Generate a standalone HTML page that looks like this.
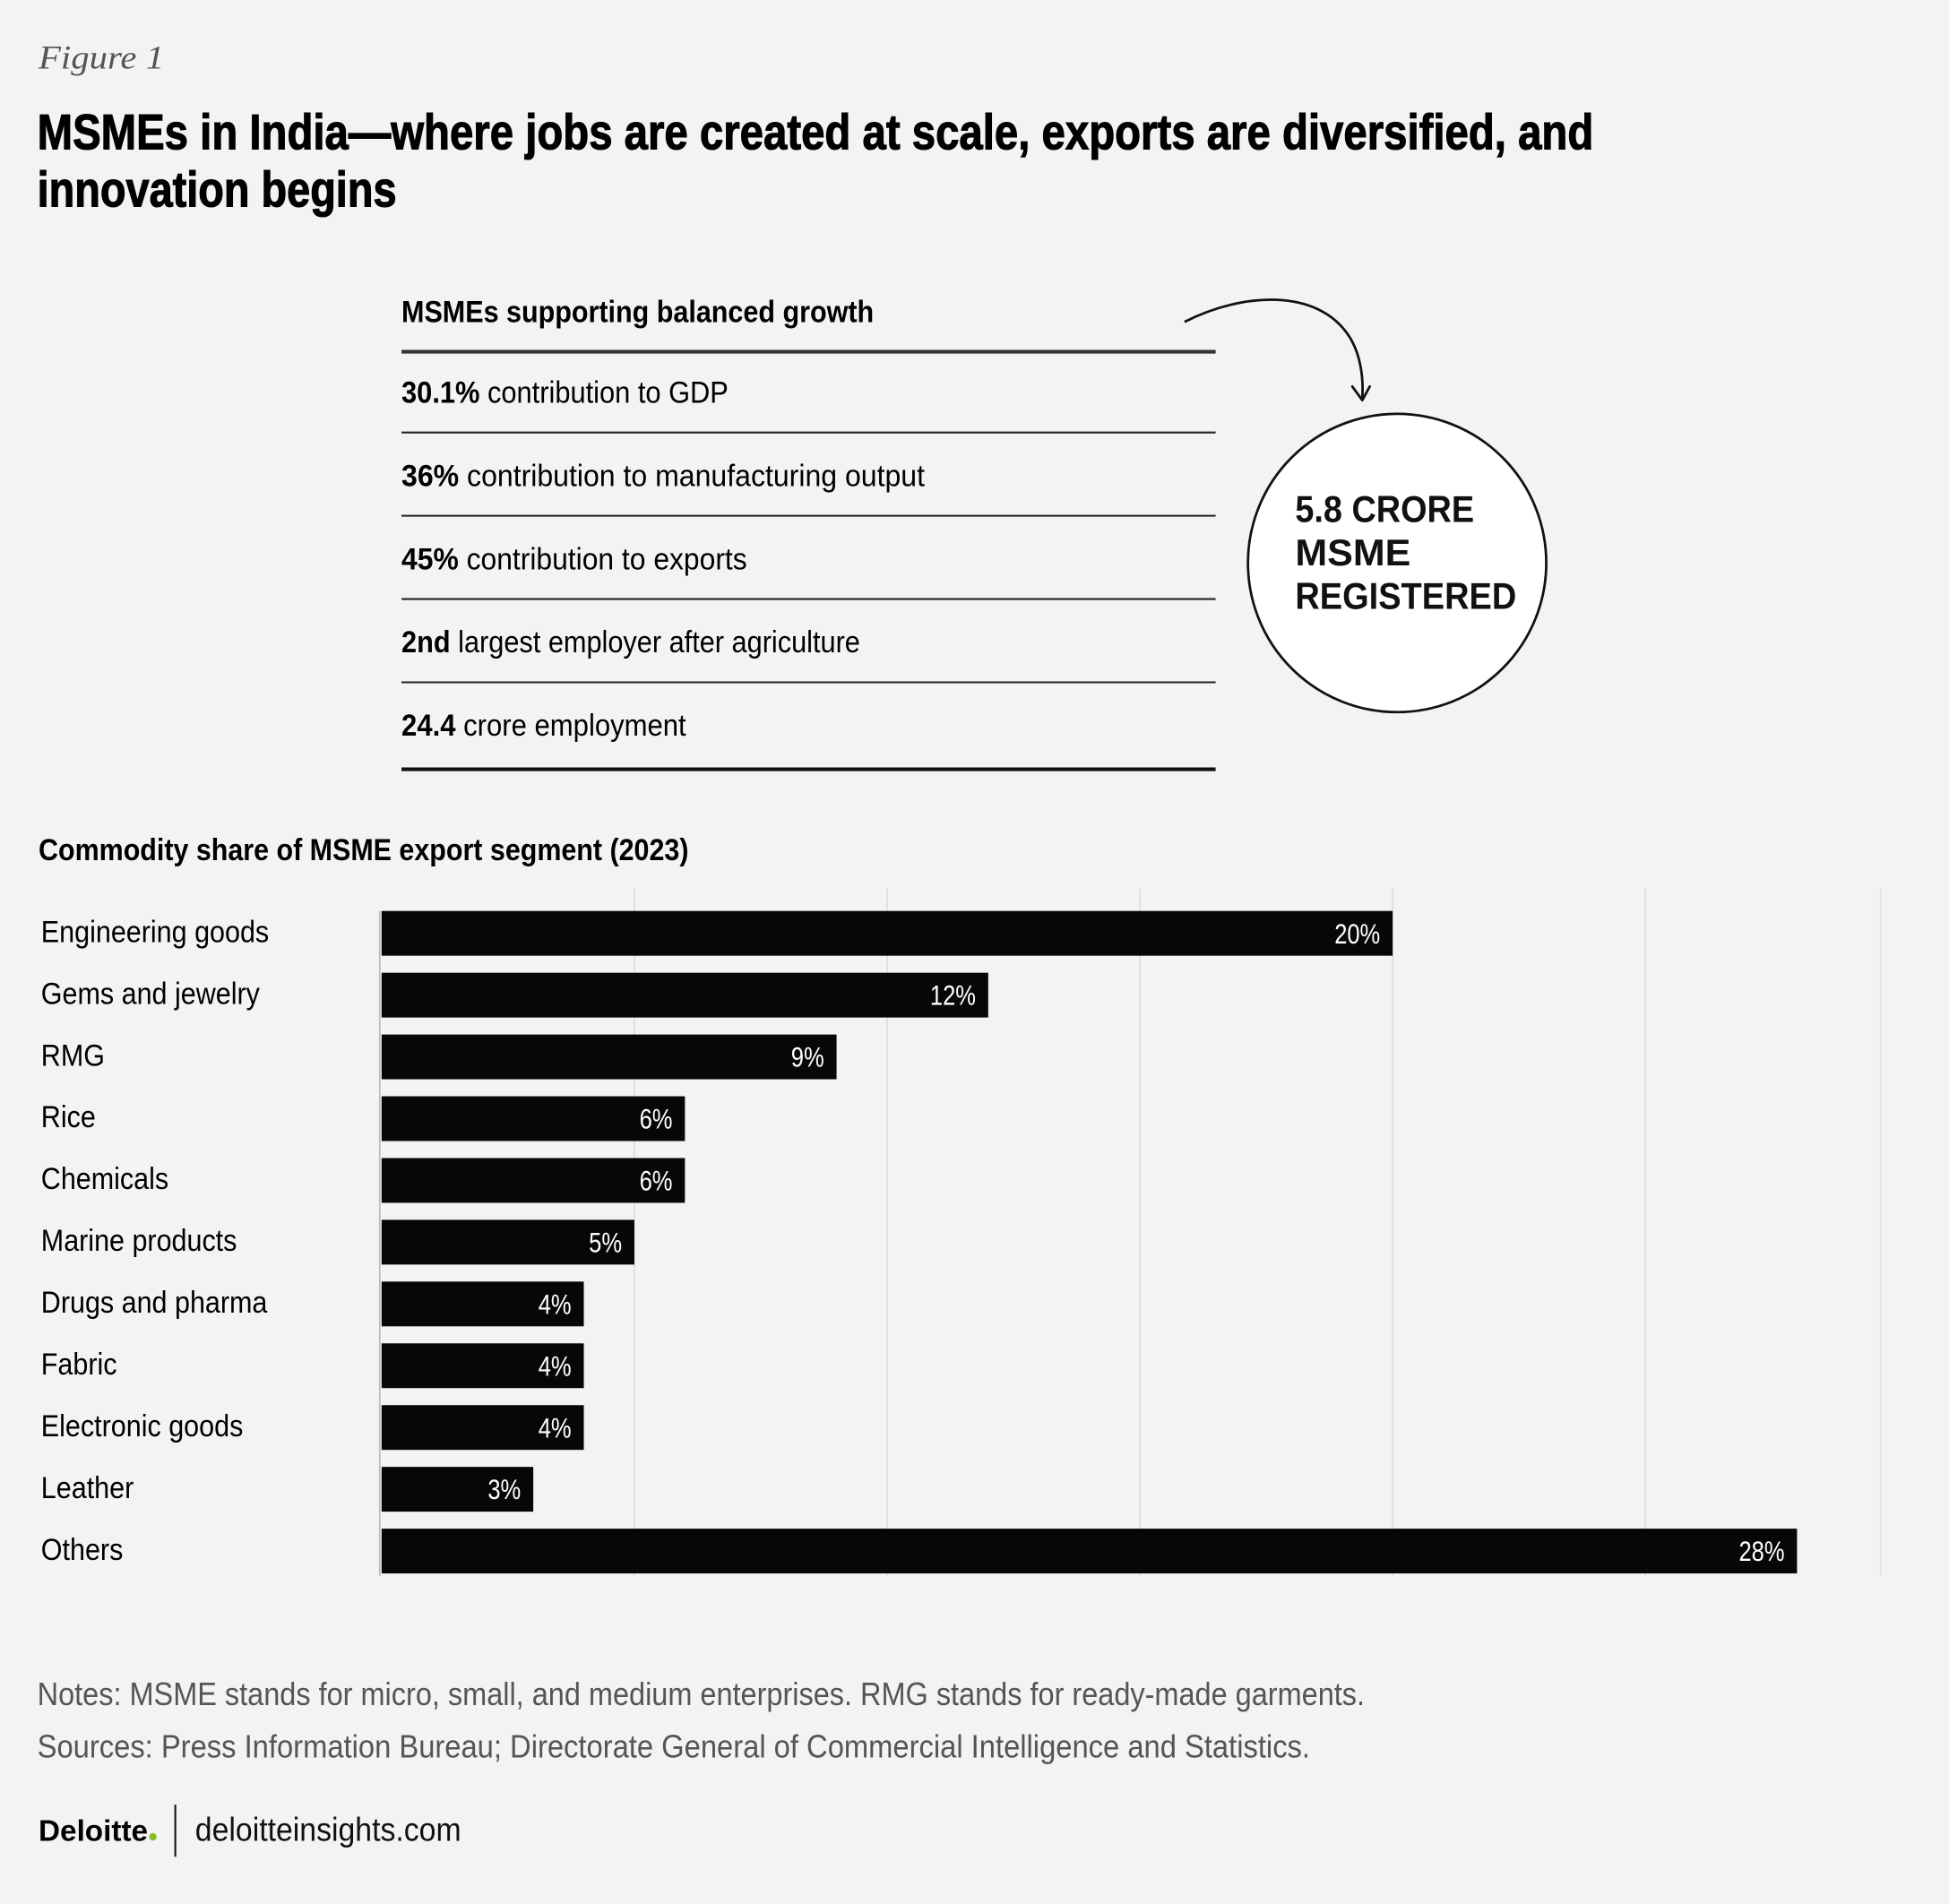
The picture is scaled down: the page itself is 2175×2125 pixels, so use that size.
<!DOCTYPE html>
<html><head><meta charset="utf-8"><style>
html,body{margin:0;padding:0;background:#f3f3f3;}
svg{display:block;}
text{font-family:"Liberation Sans Narrow","Liberation Sans",sans-serif;}
</style></head><body>
<svg id="fig" width="2175" height="2125" viewBox="0 0 1568 1532" xmlns="http://www.w3.org/2000/svg">
<rect x="0" y="0" width="1568" height="1532" fill="#f3f3f3"/>
<text x="31" y="55" font-size="27" font-style="italic" fill="#555" style="font-family:'Liberation Serif',serif" textLength="101" lengthAdjust="spacingAndGlyphs">Figure 1</text>
<text x="30" y="120" font-size="40" font-weight="bold" fill="#000" stroke="#000" stroke-width="0.8" textLength="1252" lengthAdjust="spacingAndGlyphs">MSMEs in India—where  jobs are created at scale, exports are diversified, and</text>
<text x="30" y="166" font-size="40" font-weight="bold" fill="#000" stroke="#000" stroke-width="0.8" textLength="289" lengthAdjust="spacingAndGlyphs">innovation begins</text>

<g>
<text x="323" y="259" font-size="25" font-weight="bold" fill="#000" textLength="380" lengthAdjust="spacingAndGlyphs">MSMEs supporting balanced growth</text>
<line x1="323" y1="283" x2="978" y2="283" stroke="#333" stroke-width="3"/>
<text x="323" y="324" font-size="25" fill="#000" textLength="263" lengthAdjust="spacingAndGlyphs"><tspan font-weight="bold">30.1%</tspan> contribution to GDP</text>
<line x1="323" y1="348" x2="978" y2="348" stroke="#222" stroke-width="1.5"/>
<text x="323" y="391" font-size="25" fill="#000" textLength="421" lengthAdjust="spacingAndGlyphs"><tspan font-weight="bold">36%</tspan> contribution to manufacturing output</text>
<line x1="323" y1="415" x2="978" y2="415" stroke="#222" stroke-width="1.5"/>
<text x="323" y="458" font-size="25" fill="#000" textLength="278" lengthAdjust="spacingAndGlyphs"><tspan font-weight="bold">45%</tspan> contribution to exports</text>
<line x1="323" y1="482" x2="978" y2="482" stroke="#222" stroke-width="1.5"/>
<text x="323" y="525" font-size="25" fill="#000" textLength="369" lengthAdjust="spacingAndGlyphs"><tspan font-weight="bold">2nd</tspan> largest employer after agriculture</text>
<line x1="323" y1="549" x2="978" y2="549" stroke="#222" stroke-width="1.5"/>
<text x="323" y="592" font-size="25" fill="#000" textLength="229" lengthAdjust="spacingAndGlyphs"><tspan font-weight="bold">24.4</tspan> crore employment</text>
<line x1="323" y1="619" x2="978" y2="619" stroke="#111" stroke-width="3"/>
</g>

<path d="M953,259 C1000,235 1060,232 1085,270 C1095,285 1097,305 1096,320" fill="none" stroke="#111" stroke-width="2"/>
<path d="M1088,311 L1096,322 L1102,311" fill="none" stroke="#111" stroke-width="2" stroke-linecap="round" stroke-linejoin="round"/>
<circle cx="1124" cy="453" r="120" fill="#fff" stroke="#111" stroke-width="2"/>
<g font-weight="bold" font-size="30" fill="#111" style="font-family:'DejaVu Sans',sans-serif">
<text x="1042" y="420" textLength="144" lengthAdjust="spacingAndGlyphs">5.8 CRORE</text>
<text x="1042" y="455" textLength="93" lengthAdjust="spacingAndGlyphs">MSME</text>
<text x="1042" y="490" textLength="178" lengthAdjust="spacingAndGlyphs">REGISTERED</text>
</g>

<text x="31" y="692" font-size="25" font-weight="bold" fill="#000" textLength="523" lengthAdjust="spacingAndGlyphs">Commodity share of MSME export segment (2023)</text>
<g id="chart"></g>

<text x="30" y="1372" font-size="26" fill="#555" textLength="1068" lengthAdjust="spacingAndGlyphs">Notes: MSME stands for micro, small, and medium enterprises. RMG stands for ready-made garments.</text>
<text x="30" y="1414" font-size="26" fill="#555" textLength="1024" lengthAdjust="spacingAndGlyphs">Sources: Press Information Bureau; Directorate General of Commercial Intelligence and Statistics.</text>
<text x="31" y="1481" font-size="24" font-weight="bold" fill="#000" textLength="88" lengthAdjust="spacingAndGlyphs">Deloitte</text>
<circle cx="123" cy="1478" r="3" fill="#86bc25"/>
<line x1="141" y1="1452" x2="141" y2="1494" stroke="#111" stroke-width="1.5"/>
<text x="157" y="1481" font-size="27" fill="#111" textLength="214" lengthAdjust="spacingAndGlyphs">deloitteinsights.com</text>
</svg>
<script>
const categories = ["Engineering goods","Gems and jewelry","RMG","Rice","Chemicals","Marine products","Drugs and pharma","Fabric","Electronic goods","Leather","Others"];
const shares = [20,12,9,6,6,5,4,4,4,3,28];
const valueLabels = ["20%","12%","9%","6%","6%","5%","4%","4%","4%","3%","28%"];
const gridTicks = [5,10,15,20,25];

const NS = "http://www.w3.org/2000/svg";
const g = document.getElementById('chart');
const x0 = 307, pxPerUnit = 40.67, top0 = 733, pitch = 49.7, barH = 36;
const xScale = v => x0 + v * pxPerUnit;
const yScale = i => top0 + i * pitch;
function mk(tag, attrs){ const e = document.createElementNS(NS, tag); for (const k in attrs) e.setAttribute(k, attrs[k]); g.appendChild(e); return e; }
function squeeze(el, f){ const w = el.getComputedTextLength(); if (w > 0) { el.setAttribute('textLength', (w * f).toFixed(1)); el.setAttribute('lengthAdjust', 'spacingAndGlyphs'); } }

gridTicks.forEach(t => {
  const l = mk('line', {x1: xScale(t), x2: xScale(t), y1: 715, y2: 1268, stroke: '#dcdcdc', 'stroke-width': 1.2});
  
  
});
const edge = mk('line', {x1: 1513, x2: 1513, y1: 715, y2: 1268, stroke: '#e2e2e2', 'stroke-width': 1.2});


const ax = mk('line', {x1: 305.5, x2: 305.5, y1: 733, y2: 1268, stroke: '#bbb', 'stroke-width': 1.2});



categories.forEach((c, i) => {
  const y = yScale(i);
  const lab = mk('text', {x: 33, y: y + barH/2 + 7, 'font-size': 25, fill: '#000'});
  lab.textContent = c;
  
  
  squeeze(lab, 0.88);
  const r = mk('rect', {x: x0, y: y, width: xScale(shares[i]) - x0, height: barH, fill: '#060808'});
  
  
  const v = mk('text', {x: xScale(shares[i]) - 10, y: y + barH/2 + 8, 'font-size': 23, fill: '#fff', 'text-anchor': 'end'});
  v.textContent = valueLabels[i];
  
  
  squeeze(v, 0.8);
});
</script>
</body></html>
